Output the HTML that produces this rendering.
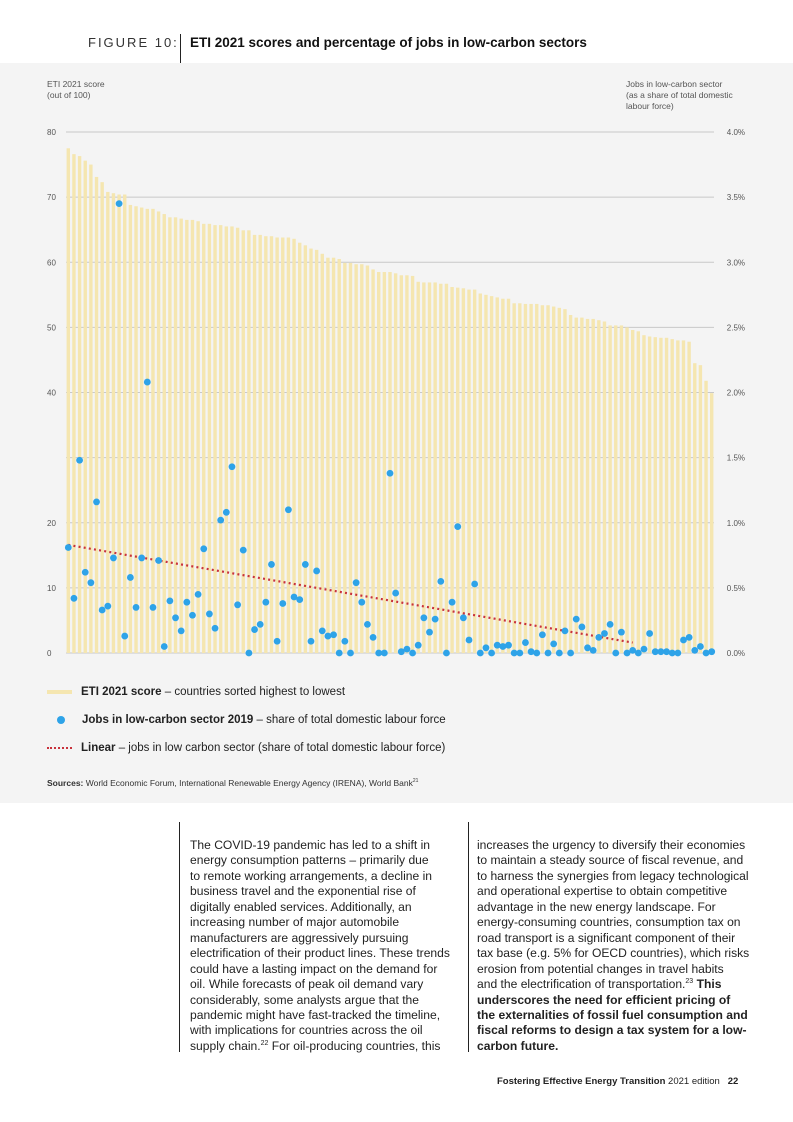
<!DOCTYPE html>
<html><head><meta charset="utf-8"><style>
body{margin:0;width:793px;height:1122px;background:#fff;font-family:"Liberation Sans",sans-serif;position:relative;overflow:hidden;color:#222}
.abs{position:absolute}
.panel{position:absolute;left:0;top:63px;width:793px;height:740px;background:#f4f4f4}
.col{position:absolute;font-size:12.1px;line-height:15.45px;color:#222;white-space:nowrap}
</style></head><body>
<div class="abs" style="left:88px;top:35px;font-size:13px;letter-spacing:2px;color:#333">FIGURE 10:</div>
<div class="abs" style="left:180px;top:34px;width:1px;height:29px;background:#222"></div>
<div class="abs" style="left:190px;top:35px;font-size:13.5px;font-weight:bold;color:#111">ETI 2021 scores and percentage of jobs in low-carbon sectors</div>
<div class="panel"></div>
<div class="abs" style="left:47px;top:79px;font-size:8.5px;line-height:11px;color:#555">ETI 2021 score<br>(out of 100)</div>
<div class="abs" style="left:626px;top:79px;font-size:8.5px;line-height:11px;color:#555;width:120px;white-space:nowrap;overflow:hidden">Jobs in low-carbon sector<br>(as a share of total domestic<br>labour force)</div>
<svg class="abs" style="left:0;top:0" width="793" height="700" id="chart"></svg>
<div class="abs" style="left:47px;top:686px;font-size:11.5px"><span style="display:inline-block;width:25px;height:4px;background:#f5e6b0;vertical-align:middle;margin-right:9px"></span><b>ETI 2021 score</b> – countries sorted highest to lowest</div>
<div class="abs" style="left:47px;top:714px;font-size:11.5px"><span style="display:inline-block;width:8px;height:8px;border-radius:50%;background:#2ea3e8;vertical-align:middle;margin:0 17px 0 10px"></span><b>Jobs in low-carbon sector 2019</b> – share of total domestic labour force</div>
<div class="abs" style="left:47px;top:742px;font-size:11.5px"><span style="display:inline-block;width:25px;border-top:2px dotted #c8323c;vertical-align:middle;margin-right:9px"></span><b>Linear</b> – jobs in low carbon sector (share of total domestic labour force)</div>
<div class="abs" style="left:47px;top:778px;font-size:8.5px;color:#333"><b>Sources:</b> World Economic Forum, International Renewable Energy Agency (IRENA), World Bank<sup style="font-size:5px">21</sup></div>
<div class="abs" style="left:179px;top:822px;width:1px;height:230px;background:#222"></div>
<div class="abs" style="left:468px;top:822px;width:1px;height:230px;background:#222"></div>
<div class="col" style="left:190px;top:838px">The COVID-19 pandemic has led to a shift in<br>energy consumption patterns – primarily due<br>to remote working arrangements, a decline in<br>business travel and the exponential rise of<br>digitally enabled services. Additionally, an<br>increasing number of major automobile<br>manufacturers are aggressively pursuing<br>electrification of their product lines. These trends<br>could have a lasting impact on the demand for<br>oil. While forecasts of peak oil demand vary<br>considerably, some analysts argue that the<br>pandemic might have fast-tracked the timeline,<br>with implications for countries across the oil<br>supply chain.<sup style="font-size:7px;line-height:0">22</sup> For oil-producing countries, this</div>
<div class="col" style="left:477px;top:838px">increases the urgency to diversify their economies<br>to maintain a steady source of fiscal revenue, and<br>to harness the synergies from legacy technological<br>and operational expertise to obtain competitive<br>advantage in the new energy landscape. For<br>energy-consuming countries, consumption tax on<br>road transport is a significant component of their<br>tax base (e.g. 5% for OECD countries), which risks<br>erosion from potential changes in travel habits<br>and the electrification of transportation.<sup style="font-size:7px;line-height:0">23</sup> <b>This</b><br><b>underscores the need for efficient pricing of<br>the externalities of fossil fuel consumption and<br>fiscal reforms to design a tax system for a low-<br>carbon future.</b></div>
<div class="abs" style="left:497px;top:1076px;font-size:9.5px"><b>Fostering Effective Energy Transition</b> 2021 edition &nbsp; <b>22</b></div>
<script>
const scores=[77.5,76.6,76.3,75.6,75.0,73.1,72.3,70.8,70.6,70.4,70.4,68.8,68.6,68.4,68.2,68.2,67.8,67.4,66.9,66.9,66.7,66.5,66.5,66.3,65.9,65.9,65.7,65.7,65.5,65.5,65.3,64.9,64.9,64.2,64.2,64.0,64.0,63.8,63.8,63.8,63.6,63.0,62.6,62.1,61.9,61.3,60.7,60.7,60.5,59.9,59.9,59.7,59.7,59.5,58.9,58.5,58.5,58.5,58.3,58.0,58.0,57.9,57.0,56.9,56.9,56.9,56.7,56.7,56.2,56.1,56.0,55.8,55.8,55.2,55.0,54.8,54.6,54.4,54.4,53.7,53.7,53.6,53.6,53.6,53.4,53.4,53.2,53.0,52.8,51.9,51.5,51.5,51.3,51.3,51.1,50.9,50.3,50.3,50.3,50.0,49.6,49.4,48.8,48.6,48.5,48.4,48.4,48.2,48.0,48.0,47.8,44.5,44.2,41.8,39.9];
const jobs=[0.81,0.42,1.48,0.62,0.54,1.16,0.33,0.36,0.73,3.45,0.13,0.58,0.35,0.73,2.08,0.35,0.71,0.05,0.40,0.27,0.17,0.39,0.29,0.45,0.80,0.30,0.19,1.02,1.08,1.43,0.37,0.79,0,0.18,0.22,0.39,0.68,0.09,0.38,1.10,0.43,0.41,0.68,0.09,0.63,0.17,0.13,0.14,0,0.09,0,0.54,0.39,0.22,0.12,0,0,1.38,0.46,0.01,0.03,0,0.06,0.27,0.16,0.26,0.55,0,0.39,0.97,0.27,0.10,0.53,0,0.04,0,0.06,0.05,0.06,0,0,0.08,0.01,0,0.14,0,0.07,0,0.17,0,0.26,0.20,0.04,0.02,0.12,0.15,0.22,0,0.16,0,0.02,0,0.03,0.15,0.01,0.01,0.01,0,0,0.10,0.12,0.02,0.05,0,0.01];
const leftTicks=[0,10,20,40,50,60,70,80];
const gridVals=[0,10,20,30,40,50,60,70,80];
const rightTicks=["0.0%","0.5%","1.0%","1.5%","2.0%","2.5%","3.0%","3.5%","4.0%"];
const trendStart=0.83, trendEnd=0.08, trendEndIndex=100;
const svg=document.getElementById('chart');const NS='http://www.w3.org/2000/svg';
const x0=68.3,x1=711.7,y0=653,y1=132;
const n=scores.length,pitch=(x1-x0)/(n-1);
const xs=i=>x0+i*pitch, yS=v=>y0-(v/80)*(y0-y1), yP=p=>y0-(p/4)*(y0-y1);
function mk(t,a){const e=document.createElementNS(NS,t);for(const k in a)e.setAttribute(k,a[k]);svg.appendChild(e);return e;}
gridVals.forEach(v=>{const l=mk('line',{x1:66,x2:714,y1:yS(v),y2:yS(v),stroke:'#c8c8c8','stroke-width':1});

});
leftTicks.forEach(v=>{const t=mk('text',{x:47,y:yS(v)+3,'font-size':8,fill:'#555'});t.textContent=v;

});
rightTicks.forEach((s,i)=>{const t=mk('text',{x:745,y:yS(i*10)+3,'font-size':8,fill:'#555','text-anchor':'end'});t.textContent=s;

});
scores.forEach((v,i)=>{const b=mk('rect',{x:xs(i)-1.7,y:yS(v),width:3.4,height:y0-yS(v),fill:'#f5e6b0'});

});
const tl=mk('line',{x1:xs(0),y1:yP(trendStart),x2:xs(trendEndIndex),y2:yP(trendEnd),stroke:'#c8323c','stroke-width':2.2,'stroke-dasharray':'2 3.2'});


jobs.forEach((p,i)=>{const c=mk('circle',{cx:xs(i),cy:yP(p),r:3.4,fill:'#2ea3e8'});

});
</script>
</body></html>
